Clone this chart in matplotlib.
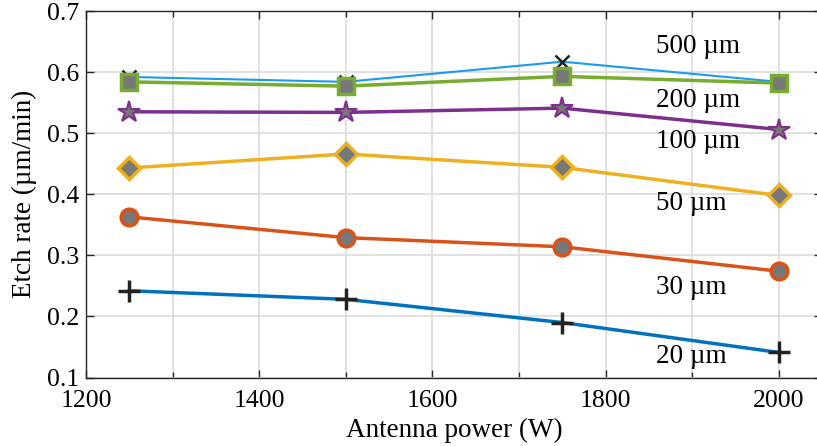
import matplotlib
matplotlib.use("Agg")
import matplotlib.pyplot as plt
from matplotlib.ticker import MultipleLocator

plt.rcParams['font.family'] = ['Liberation Serif', 'DejaVu Serif']

power = [1250, 1500, 1750, 2000]

rate_20 = [0.242, 0.228, 0.190, 0.141]
rate_30 = [0.363, 0.329, 0.314, 0.274]
rate_50 = [0.443, 0.466, 0.444, 0.398]
rate_100 = [0.535, 0.534, 0.541, 0.506]
rate_200 = [0.584, 0.577, 0.593, 0.582]
rate_500 = [0.592, 0.584, 0.617, 0.584]

labels = ['500 µm', '200 µm', '100 µm', '50 µm', '30 µm', '20 µm']
label_y = [0.642, 0.554, 0.487, 0.385, 0.248, 0.134]
label_x = 1858

face = '#787878'

fig = plt.figure(figsize=(8.17, 4.46), dpi=100)
ax = fig.add_axes([86 / 817, 68.5 / 446, 736 / 817, 366.5 / 446])

# 500 um goes first so the 200 um squares cover it
ax.plot(power, rate_500, color='#1a9bf0', lw=1.5, marker='x', ms=10,
        mec='#222222', mew=1.8, zorder=3)
ax.plot(power, rate_200, color='#77ac30', lw=2.5, marker='s', ms=12,
        mfc=face, mec='#77ac30', mew=2.5, zorder=4)
ax.plot(power, rate_100, color='#7e2f8e', lw=2.5, marker='*', ms=16,
        mfc=face, mec='#7e2f8e', mew=1.5, zorder=4)
ax.plot(power, rate_50, color='#edb120', lw=2.5, marker='D', ms=11,
        mfc=face, mec='#edb120', mew=2.5, zorder=4)
ax.plot(power, rate_30, color='#d95319', lw=2.5, marker='o', ms=12,
        mfc=face, mec='#d95319', mew=2.5, zorder=4)
ax.plot(power, rate_20, color='#0072bd', lw=2.5, marker='+', ms=16,
        mec='#222222', mew=2.5, zorder=4)

for txt, y in zip(labels, label_y):
    ax.text(label_x, y, txt, fontsize=19.5, ha='left', va='center', zorder=5)

ax.set_xlim(1200, 2050)
ax.set_ylim(0.1, 0.7)
ax.xaxis.set_major_locator(MultipleLocator(200))
ax.xaxis.set_minor_locator(MultipleLocator(100))
ax.set_yticks([0.1, 0.2, 0.3, 0.4, 0.5, 0.6, 0.7])
ax.set_yticklabels(['0.1', '0.2', '0.3', '0.4', '0.5', '0.6', '0.7'])

ax.grid(True, which='both', axis='x', color='#dcdcdc', lw=1.2)
ax.grid(True, which='major', axis='y', color='#dcdcdc', lw=1.2)
ax.set_axisbelow(True)

ax.tick_params(which='both', direction='in', top=True, right=True,
               labelsize=18.5, color='#262626', width=1.0)
ax.tick_params(which='major', length=6)
ax.tick_params(which='minor', length=4)
ax.tick_params(axis='x', pad=9)
ax.tick_params(axis='y', pad=5)
for sp in ax.spines.values():
    sp.set_color('#262626')
    sp.set_linewidth(1.0)

ax.set_xlabel('Antenna power (W)', fontsize=19.5, labelpad=4)
ax.set_ylabel('Etch rate (µm/min)', fontsize=19.5, labelpad=7)

fig.savefig('out.png', dpi=100)
